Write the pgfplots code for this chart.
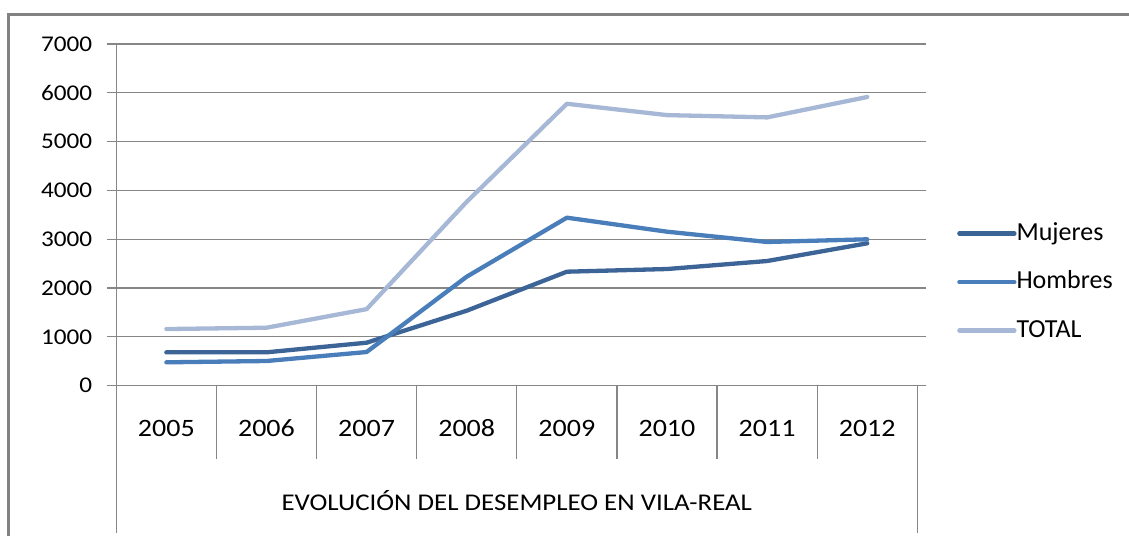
\documentclass[border=0pt]{standalone}
\usepackage{fontspec}
\setmainfont{Carlito}[FakeStretch=1.12]
\newfontfamily\legfont{Carlito}
\usepackage{pgfplots}
\pgfplotsset{compat=1.18}
\definecolor{muj}{HTML}{3C6497}
\definecolor{hom}{HTML}{4A7EBB}
\definecolor{tot}{HTML}{A6B8D6}
\definecolor{gridc}{HTML}{868686}
\definecolor{bord}{HTML}{828282}
\begin{document}
\begin{tikzpicture}[x=1pt,y=1pt]
\path[use as bounding box] (0,0) rectangle (1129,536);
\draw[color=bord, line width=3pt] (8.5,0) -- (8.5,521.5) -- (1129,521.5);
\begin{axis}[at={(116.3pt,150.4pt)}, anchor=south west, scale only axis,
  width=801pt, height=341.6pt,
  xmin=-0.5, xmax=7.5, ymin=0, ymax=7000,
  axis line style={draw=none},
  ytick={0,1000,...,7000},
  ymajorgrids, grid style={draw=gridc, line width=1.3pt},
  tick align=outside, major tick length=9pt,
  ytick style={draw=gridc, line width=1.3pt},
  xtick style={draw=none},
  xtick={0,...,7},
  xticklabels={2005,2006,2007,2008,2009,2010,2011,2012},
  /pgf/number format/assume math mode=true,
  /pgf/number format/1000 sep={},
  scaled y ticks=false,
  yticklabel style={font=\fontsize{22.5}{26}\selectfont, anchor=east, inner sep=0pt, xshift=-15pt},
  xticklabel style={font=\fontsize{25}{30}\selectfont, anchor=base, inner sep=0pt, yshift=-42pt},
  clip=false,
  legend style={at={(1.0496,0.303)}, anchor=west, draw=none, fill=none, inner sep=0pt,
    font=\legfont\fontsize{26}{30}\selectfont, row sep=25.5pt,
    nodes={inner sep=0pt, text height=18pt, text depth=5pt}},
  legend cell align=left,
  legend image code/.code={\draw[#1] (0pt,0pt) -- (55pt,0pt);},
  /tikz/every odd column/.append style={column sep=0pt},
  every axis plot/.append style={line width=4.3pt, line cap=round, line join=round},
]
\addplot[muj] coordinates {(0,682) (1,682) (2,879) (3,1535) (4,2334) (5,2389) (6,2553) (7,2916)};
\addplot[hom] coordinates {(0,477) (1,504) (2,688) (3,2232) (4,3441) (5,3154) (6,2943) (7,2998)};
\addplot[tot] coordinates {(0,1159) (1,1186) (2,1567) (3,3767) (4,5775) (5,5543) (6,5496) (7,5914)};
\legend{Mujeres,Hombres,TOTAL}
\end{axis}
\draw[gridc, line width=1.2pt] (116.3,492) -- (116.3,3);
\foreach \k in {1,...,7} {\draw[gridc, line width=1.2pt] ({116.3+\k*100.125},150.4) -- ({116.3+\k*100.125},76.7);}
\draw[gridc, line width=1.2pt] (917.3,150.4) -- (917.3,3);
\node[font=\fontsize{24}{28}\selectfont, anchor=base] at (516.8,25.3) {EVOLUCIÓN DEL DESEMPLEO EN VILA-REAL};
\end{tikzpicture}
\end{document}
